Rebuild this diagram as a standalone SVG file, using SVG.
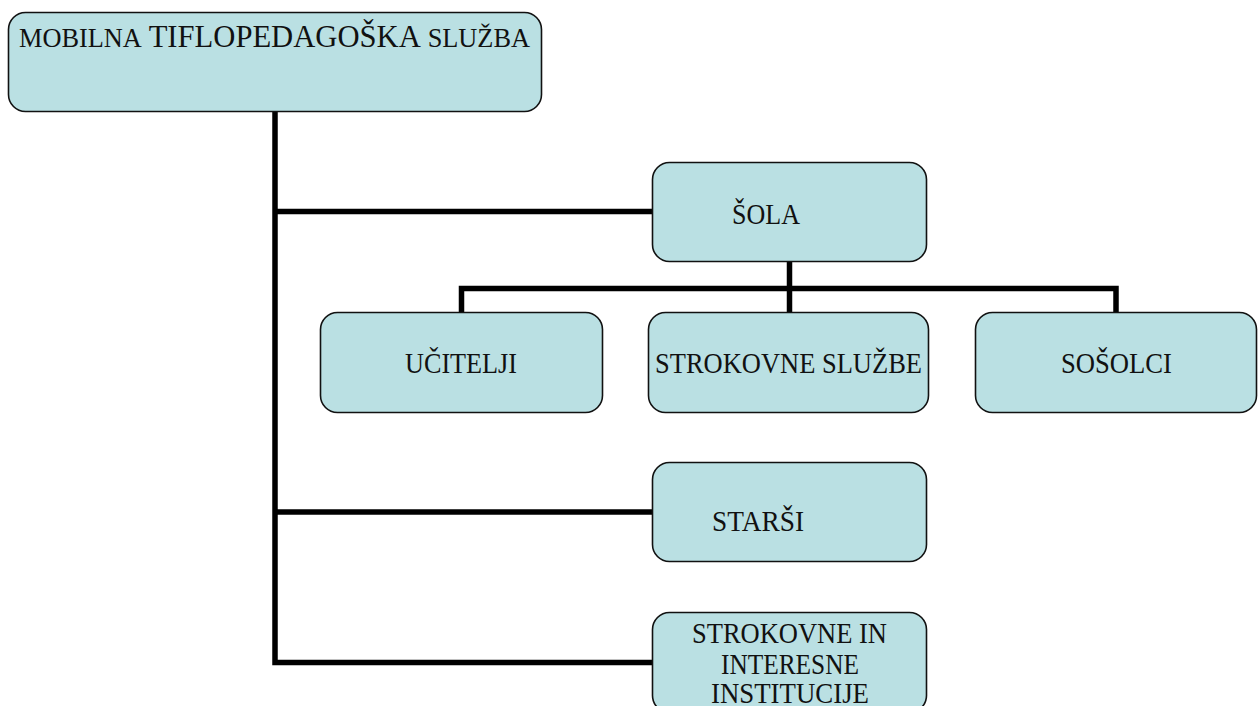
<svg xmlns="http://www.w3.org/2000/svg" width="1260" height="706" viewBox="0 0 1260 706">
<style>
.box{fill:#BAE0E3;stroke:#111;stroke-width:1.6}
.t{font-family:"Liberation Serif","Times New Roman",serif;fill:#111;font-size:28.5px}
.c{fill:none;stroke:#000;stroke-width:5.5;stroke-linejoin:miter;stroke-linecap:butt}
</style>
<rect width="1260" height="706" fill="#fff"/>
<g id="connectors">
<path class="c" d="M275,111 V662.5 H653"/>
<path class="c" d="M275,211.5 H653"/>
<path class="c" d="M275,512 H653"/>
<path class="c" d="M789.5,262 V313"/>
<path class="c" d="M461.5,313 V288.5 H1116 V313"/>
</g>
<g id="node-mobilna">
<rect class="box" x="8.5" y="12.5" width="533" height="99" rx="17"/>
<text class="t" x="19" y="47" textLength="511" lengthAdjust="spacingAndGlyphs"><tspan font-size="27.5">MOBILNA</tspan> <tspan font-size="32">TIFLOPEDAGOŠKA</tspan> <tspan font-size="27.5">SLUŽBA</tspan></text>
</g>
<g id="node-sola">
<rect class="box" x="652.5" y="162.5" width="274" height="99" rx="17"/>
<text class="t" x="732" y="224" textLength="68" lengthAdjust="spacingAndGlyphs">ŠOLA</text>
</g>
<g id="node-ucitelji">
<rect class="box" x="320.5" y="312.5" width="282" height="100" rx="17"/>
<text class="t" x="405" y="373" textLength="112" lengthAdjust="spacingAndGlyphs">UČITELJI</text>
</g>
<g id="node-strokovne-sluzbe">
<rect class="box" x="648.5" y="312.5" width="280" height="100" rx="17"/>
<text class="t" x="655" y="373" textLength="267" lengthAdjust="spacingAndGlyphs">STROKOVNE SLUŽBE</text>
</g>
<g id="node-sosolci">
<rect class="box" x="975.5" y="312.5" width="281" height="100" rx="17"/>
<text class="t" x="1061" y="373" textLength="111" lengthAdjust="spacingAndGlyphs">SOŠOLCI</text>
</g>
<g id="node-starsi">
<rect class="box" x="652.5" y="462.5" width="274" height="99" rx="17"/>
<text class="t" x="712" y="531" textLength="92" lengthAdjust="spacingAndGlyphs">STARŠI</text>
</g>
<g id="node-institucije">
<rect class="box" x="652.5" y="612.5" width="274" height="100" rx="17"/>
<text class="t" x="692" y="643" textLength="195" lengthAdjust="spacingAndGlyphs">STROKOVNE IN</text>
<text class="t" x="721" y="673.5" textLength="138" lengthAdjust="spacingAndGlyphs">INTERESNE</text>
<text class="t" x="711" y="703" textLength="158" lengthAdjust="spacingAndGlyphs">INSTITUCIJE</text>
</g>
</svg>
